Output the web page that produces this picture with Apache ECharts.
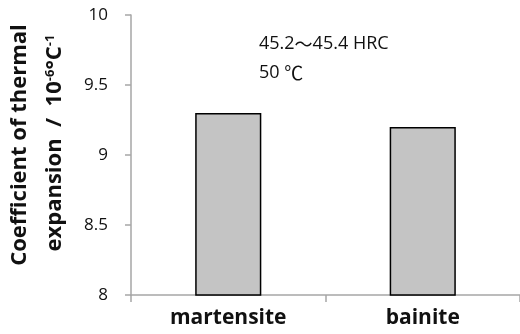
<!DOCTYPE html>
<html>
<head>
<meta charset="utf-8">
<script src="https://cdn.jsdelivr.net/npm/echarts@6/dist/echarts.min.js"></script>
<style>
html,body{margin:0;padding:0;background:#fff;}
#chart{width:520px;height:334px;}
</style>
</head>
<body>
<div id="chart"></div>
<script>
var categories = ['martensite', 'bainite'];
var values = [9.3, 9.2];
var yTicks = [8, 8.5, 9, 9.5, 10];
var noteLines = ['45.2{w|～}45.4 HRC', '50 {w|℃}'];

var chart = echarts.init(document.getElementById('chart'), null, {renderer: 'canvas'});
var FONT = '"Open Sans", "Liberation Sans", sans-serif';
var CJK = '"Noto Sans CJK JP", sans-serif';
chart.setOption({
  animation: false,
  grid: {left: 131, right: -3, top: 15, bottom: 39},
  xAxis: {
    type: 'category',
    data: categories,
    axisLine: {lineStyle: {color: '#a6a6a6', width: 1.5}},
    axisTick: {show: true, length: 7, lineStyle: {color: '#a6a6a6', width: 1.5}},
    axisLabel: {fontFamily: FONT, fontSize: 21, fontWeight: 'bold', color: '#111', margin: 13}
  },
  yAxis: {
    type: 'value',
    min: yTicks[0],
    max: yTicks[yTicks.length - 1],
    interval: 0.5,
    axisLine: {show: true, lineStyle: {color: '#a6a6a6', width: 1.5}},
    axisTick: {show: true, length: 6, lineStyle: {color: '#a6a6a6', width: 1.5}},
    splitLine: {show: false},
    axisLabel: {fontFamily: FONT, fontSize: 17, color: '#111', margin: 23,
      formatter: function (v) { return String(v); }}
  },
  series: [{
    type: 'bar',
    data: values,
    barWidth: '34%',
    itemStyle: {color: '#c4c4c4', borderColor: '#000', borderWidth: 1.5}
  }],
  graphic: [
    {type: 'text', x: 259, y: 44, style: {text: noteLines[0], font: '18px ' + FONT, fill: '#111', textVerticalAlign: 'middle',
      rich: {w: {fontFamily: CJK, fontSize: 18, fill: '#111'}}}},
    {type: 'text', x: 259, y: 73, style: {text: noteLines[1], font: '18px ' + FONT, fill: '#111', textVerticalAlign: 'middle',
      rich: {w: {fontFamily: CJK, fontSize: 19, fill: '#111'}}}},
    {type: 'text', x: 20, y: 145, rotation: Math.PI / 2,
      style: {text: 'Coefficient of thermal', font: 'bold 22px ' + FONT, fill: '#111', textAlign: 'center', textVerticalAlign: 'middle'}},
    {type: 'text', x: 55, y: 143, rotation: Math.PI / 2,
      style: {text: 'expansion  /  10{sup|-6}°C{sup|-1}', font: 'bold 22px ' + FONT, fill: '#111', textAlign: 'center', textVerticalAlign: 'middle',
        rich: {sup: {fontSize: 13, fontWeight: 'bold', fontFamily: FONT, fill: '#111', verticalAlign: 'top', padding: [0, 0, 10, 0]}}}}
  ]
});
</script>
</body>
</html>
